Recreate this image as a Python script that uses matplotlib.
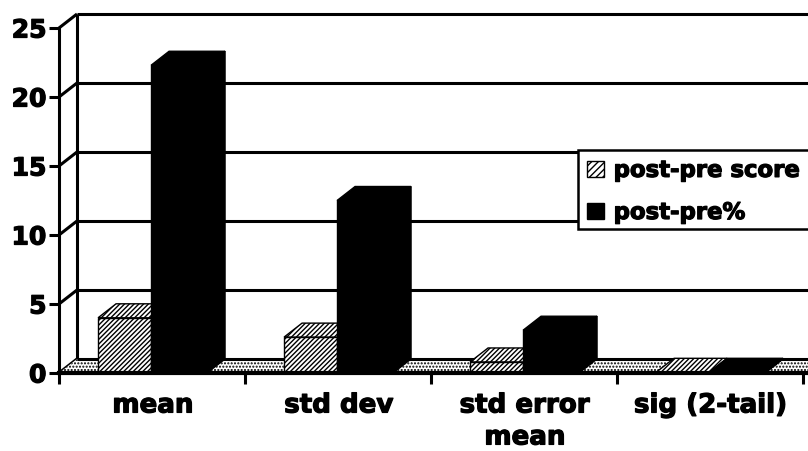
import matplotlib
matplotlib.use("Agg")
import matplotlib.pyplot as plt
import matplotlib.patheffects as pe
from matplotlib.patches import Patch, Polygon, Rectangle
from matplotlib.transforms import IdentityTransform

categories = ["mean", "std dev", "std error\nmean", "sig (2-tail)"]
score = [4.0, 2.6, 0.8, 0.05]
percent = [22.3, 12.5, 3.1, 0.05]
yticks = [0, 5, 10, 15, 20, 25]

plt.rcParams["font.family"] = "DejaVu Sans"
plt.rcParams["font.weight"] = "bold"
plt.rcParams["hatch.linewidth"] = 1.0

W, H = 808, 451
fig = plt.figure(figsize=(W / 100, H / 100), dpi=100)
# front plane of the 3d box, pixels measured on the picture
ax = fig.add_axes([59 / W, 1 - 373 / H, 744 / W, 345 / H])
ax.set_xlim(0, 4)
ax.set_ylim(0, 25)

DX = 18 / 186  # depth of the box in category units
DY = 14 / 13.8  # depth in value units
LW = 2.2
heavy = [pe.withStroke(linewidth=0.9, foreground="black")]


def poly(pts, **kw):
    p = Polygon(pts, closed=True, clip_on=False, **kw)
    ax.add_patch(p)
    return p


def line(xs, ys, lw=LW, z=2):
    ax.plot(xs, ys, color="black", lw=lw, clip_on=False, zorder=z, solid_capstyle="butt")


# walls
for v in yticks:
    line([0, DX], [v, v + DY])
    if v > 0:
        line([DX, 4.2], [v + DY, v + DY])
line([DX, DX], [DY, 25 + DY])

# floor
poly([(0, 0), (DX, DY), (4.2, DY), (4.2 - DX, 0)], facecolor="white",
     edgecolor="black", hatch="-.....", lw=0, zorder=3)
line([DX, 4.2], [DY, DY], lw=LW, z=3)


def bar3d(x0, x1, v, hatch, z):
    if hatch:
        fc, ec = "white", "black"
    else:
        fc, ec = "black", "black"
    poly([(x1, 0), (x1 + DX, DY), (x1 + DX, v + DY), (x1, v)], facecolor="black",
         edgecolor="black", lw=1, zorder=z)
    poly([(x0, v), (x0 + DX, v + DY), (x1 + DX, v + DY), (x1, v)], facecolor=fc,
         edgecolor=ec, hatch=hatch, lw=1, zorder=z)
    poly([(x0, 0), (x1, 0), (x1, v), (x0, v)], facecolor=fc, edgecolor=ec,
         hatch=hatch, lw=1, zorder=z + 0.1)


for i in range(len(categories)):
    bar3d(i + 0.21, i + 0.495, score[i], "///////", 4 + i)
    bar3d(i + 0.495, i + 0.796, percent[i], None, 4.5 + i)

# axes
for s in ["top", "right"]:
    ax.spines[s].set_visible(False)
ax.spines["left"].set_linewidth(LW)
ax.spines["bottom"].set_linewidth(3)
ax.spines["bottom"].set_bounds(0, 4.03)
ax.spines["left"].set_zorder(20)
ax.spines["bottom"].set_zorder(20)
ax.patch.set_visible(False)

ax.set_yticks(yticks)
ax.set_yticklabels([str(v) for v in yticks], fontsize=18, fontweight="bold")
ax.tick_params(axis="y", length=7, width=LW, pad=2)
ax.set_xticks([0, 1, 2, 3, 4])
ax.set_xticklabels([])
ax.tick_params(axis="x", which="major", length=8, width=LW)
ax.set_xticks([0.505, 1.505, 2.505, 3.505], minor=True)
ax.set_xticklabels(categories, minor=True, fontsize=18.8, fontweight="bold",
                   linespacing=1.3)
ax.tick_params(axis="x", which="minor", length=0, pad=14)
for t in ax.get_yticklabels() + ax.get_xticklabels(minor=True):
    t.set_path_effects(heavy)

# legend box runs off the right edge, so the frame is separate from the entries
frame = Rectangle((578, H - 229), 240, 79, facecolor="white",
                  edgecolor="black", lw=1.8, zorder=29)
ax.add_patch(frame)
frame.set_transform(IdentityTransform())
frame.set_clip_on(False)

handles = [Patch(facecolor="white", edgecolor="black", hatch="/////", label="post-pre score"),
           Patch(facecolor="black", edgecolor="black", label="post-pre%")]
leg = ax.legend(handles=handles, loc="lower left",
                bbox_to_anchor=(587 / W, 1 - 224 / H), bbox_transform=fig.transFigure,
                frameon=False, fontsize=16.4,
                handlelength=0.75, handleheight=0.75, handletextpad=0.42,
                labelspacing=0.84, borderpad=0, borderaxespad=0)
leg.set_zorder(30)
for t in leg.get_texts():
    t.set_path_effects(heavy)

fig.savefig("out.png", dpi=100)
